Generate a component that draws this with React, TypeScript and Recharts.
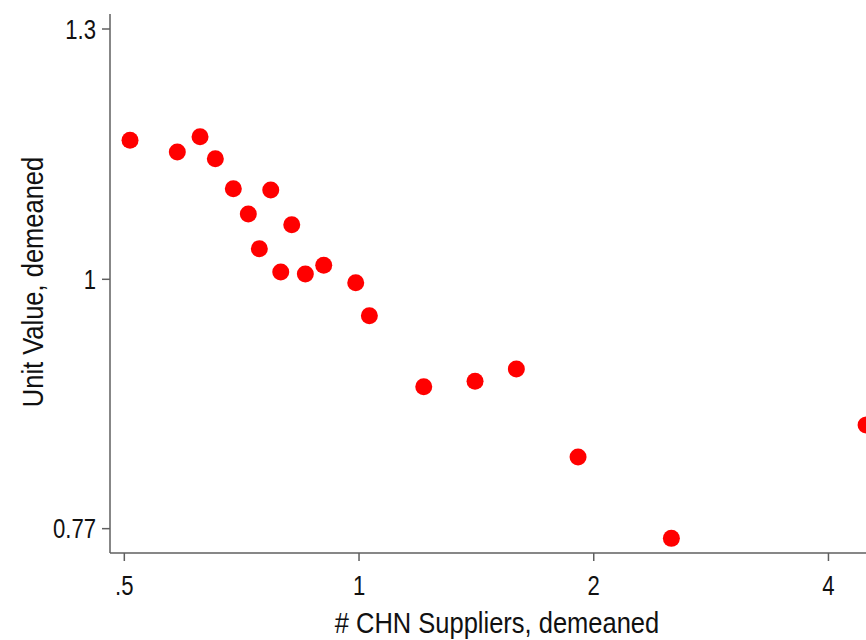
import React from 'react';
import { ScatterChart, Scatter, XAxis, YAxis } from 'recharts';

// binned scatter: # CHN suppliers vs unit value (both demeaned, log axes)
const suppliers = [
  0.5085, 0.5847, 0.6253, 0.6542, 0.6899, 0.7705, 0.7211, 0.8198, 0.745, 0.7936,
  0.8534, 0.901, 0.9903, 1.031, 1.2106, 1.4086, 1.5914, 1.9094, 2.5153, 4.47,
];
const unitValue = [
  1.1568, 1.1428, 1.1612, 1.1348, 1.0996, 1.0981, 1.0708, 1.0589, 1.0326, 1.0077,
  1.0056, 1.0148, 0.9964, 0.9626, 0.8935, 0.8986, 0.9103, 0.83, 0.7622, 0.8584,
];
const xTicks = [0.5, 1, 2, 4];
const yTicks = [0.77, 1, 1.3];

const data = suppliers.map((x, i) => ({ x, y: unitValue[i] }));

const FONT = '"Liberation Sans", Arial, sans-serif';
const AXIS = '#5f5f5f';
const TXT = '#111';
const NARROW = 0.82; // no narrow font installed, squeeze the text instead
const NARROW_LABEL = 0.85;

const fmtX = (v: number) => (v < 1 ? String(v).replace(/^0\./, '.') : String(v));

const XTick = ({ x, y, payload }: any) => (
  <text
    transform={`translate(${x},${y}) scale(${NARROW},1)`}
    textAnchor="middle"
    dy="0.71em"
    fontFamily={FONT}
    fontSize={27}
    fill={TXT}
  >
    {fmtX(payload.value)}
  </text>
);

const YTick = ({ x, y, payload }: any) => (
  <text
    transform={`translate(${x},${y}) scale(${NARROW},1)`}
    textAnchor="end"
    dy="0.36em"
    fontFamily={FONT}
    fontSize={27}
    fill={TXT}
  >
    {String(payload.value)}
  </text>
);

const Dot = (props: any) => <circle cx={props.cx} cy={props.cy} r={8.5} fill="#ff0000" />;

export default function App() {
  return (
    <div style={{ position: 'absolute', left: 0, top: 0, width: 866, height: 640, overflow: 'hidden', background: '#fff' }}>
      <ScatterChart width={900} height={640} margin={{ top: 14, right: 0, bottom: 0, left: 0 }}>
        <XAxis
          dataKey="x"
          type="number"
          scale="log"
          domain={[0.4793, 4.941]}
          allowDataOverflow
          ticks={xTicks}
          height={87}
          tickSize={8}
          tickMargin={15}
          stroke={AXIS}
          strokeWidth={1.5}
          tick={<XTick />}
          label={({ viewBox }: any) => (
            <text
              transform={`translate(497,${viewBox.y + 80}) scale(${NARROW_LABEL},1)`}
              textAnchor="middle"
              fontFamily={FONT}
              fontSize={30}
              fill={TXT}
            >
              # CHN Suppliers, demeaned
            </text>
          )}
        />
        <YAxis
          dataKey="y"
          type="number"
          scale="log"
          domain={[0.7506, 1.3206]}
          allowDataOverflow
          ticks={yTicks}
          width={110}
          tickSize={8}
          tickMargin={6}
          stroke={AXIS}
          strokeWidth={1.5}
          tick={<YTick />}
          label={() => (
            <text
              transform={`translate(43,282) rotate(-90) scale(${NARROW_LABEL},1)`}
              textAnchor="middle"
              fontFamily={FONT}
              fontSize={30}
              fill={TXT}
            >
              Unit Value, demeaned
            </text>
          )}
        />
        <Scatter data={data} fill="#ff0000" shape={<Dot />} isAnimationActive={false} />
      </ScatterChart>
    </div>
  );
}
